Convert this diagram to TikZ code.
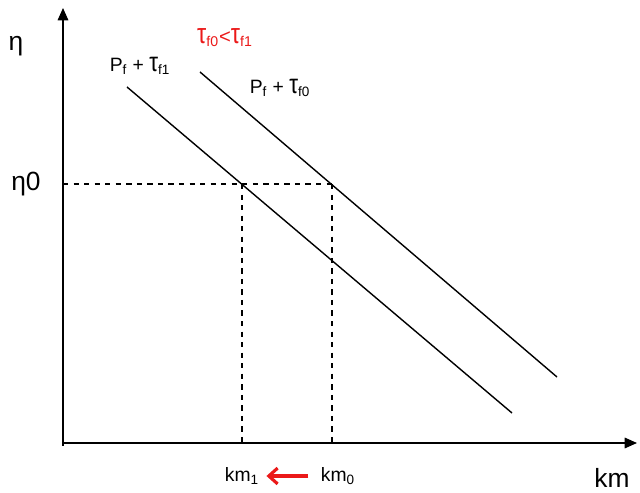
\documentclass[tikz,border=0pt]{standalone}
\usepackage{fontspec}
\usepackage{graphicx}
\setmainfont{Liberation Sans}
\usetikzlibrary{arrows.meta}
\definecolor{C0}{RGB}{235, 25, 25}
\newcommand{\tauc}{\scalebox{1.15}[1.4]{τ}}

\begin{document}
\begin{tikzpicture}[x=0.02cm, y=-0.02cm]
    \useasboundingbox (0,0) rectangle (640,493);

    %% Axes
    \coordinate (O) at (63,443);
    \coordinate (Ytop) at (63,8);
    \coordinate (Xend) at (637,443);
    \draw[line width=0.9pt, -{Triangle[length=7pt,width=6pt]}] (63,446) -- (Ytop);
    \draw[line width=0.9pt, -{Triangle[length=7pt,width=6pt]}] (O) -- (Xend);
    \node[font=\fontsize{15}{18}\selectfont] (eta) at (16,46) {η};
    \node[font=\fontsize{15}{18}\selectfont] (km) at (612,478) {km};

    %% --- Two demand lines ---
    \coordinate (A1) at (127,87);
    \coordinate (A2) at (512,413);
    \coordinate (B1) at (200,72);
    \coordinate (B2) at (557,377);
    \draw[line width=0.8pt] (A1) -- (A2);
    \draw[line width=0.8pt] (B1) -- (B2);

    %% Equilibrium points at eta_0
    \coordinate (E0) at (63,184);
    \coordinate (E1) at (242,184);
    \coordinate (E2) at (332,184);
    \coordinate (F1) at (242,443);
    \coordinate (F2) at (332,443);
    \draw[dashed, line width=0.6pt] (E0) -- (E2);
    \draw[dashed, line width=0.6pt] (E1) -- (F1);
    \draw[dashed, line width=0.6pt] (E2) -- (F2);
    \node[font=\fontsize{15}{18}\selectfont] (eta0) at (26,184) {η0};

    %% Labels
    \node[font=\fontsize{11}{13}\selectfont] (L1) at (140,66) {P\textsubscript{f} + \tauc\textsubscript{f1}};
    \node[font=\fontsize{11}{13}\selectfont] (L2) at (280,88) {P\textsubscript{f} + \tauc\textsubscript{f0}};
    \node[font=\fontsize{11.5}{13}\selectfont, C0] (cmp) at (225,38) {\tauc\textsubscript{f0}<\tauc\textsubscript{f1}};

    %% Shift of km
    \node[font=\fontsize{11}{13}\selectfont, inner sep=0pt] (km1) at (242,476) {km\textsubscript{1}};
    \node[font=\fontsize{11}{13}\selectfont, inner sep=0pt] (km0) at (338,476) {km\textsubscript{0}};
    \draw[C0, line width=1.8pt, -{Straight Barb[length=5pt,width=9pt]}] ([xshift=-7pt]km0.west) -- ([xshift=4pt]km1.east);

\end{tikzpicture}
\end{document}
